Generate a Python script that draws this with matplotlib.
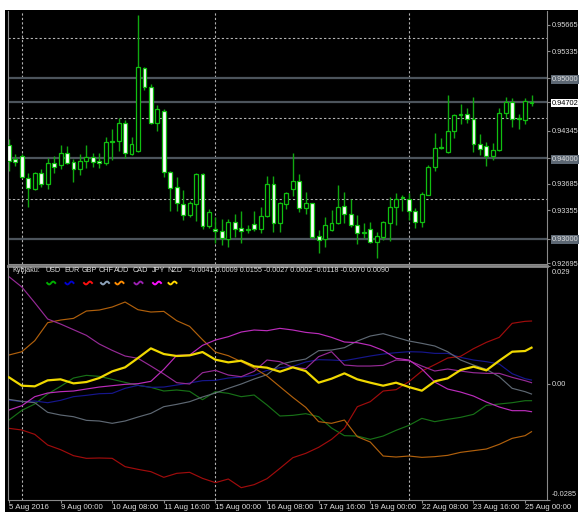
import numpy as np
import matplotlib
matplotlib.use("Agg")
import matplotlib.pyplot as plt
from matplotlib import font_manager as fm
from matplotlib.patches import Rectangle
from matplotlib.transforms import blended_transform_factory, offset_copy

# ---------------- data ----------------
opens = [0.94168, 0.93990, 0.94035, 0.93761, 0.93620, 0.93815, 0.93682, 0.93940, 0.93915, 0.94073,
         0.93952, 0.93865, 0.93973, 0.94019, 0.93969, 0.93940, 0.94218, 0.94218, 0.94439, 0.94052,
         0.94094, 0.95125, 0.94888, 0.94439, 0.94597, 0.93836, 0.93649, 0.93432, 0.93299, 0.93432,
         0.93807, 0.93158, 0.93121, 0.93100, 0.92992, 0.93208, 0.93133, 0.93121, 0.93179, 0.93125,
         0.93283, 0.93682, 0.93200, 0.93432, 0.93615, 0.93724, 0.93383, 0.93441, 0.93033, 0.92992,
         0.93108, 0.93191, 0.93412, 0.93308, 0.93170, 0.93083, 0.93121, 0.92963, 0.93025, 0.93200,
         0.93391, 0.93524, 0.93491, 0.93345, 0.93208, 0.93549, 0.93898, 0.94148, 0.94081, 0.94347,
         0.94538, 0.94555, 0.94497, 0.94177, 0.94156, 0.94031, 0.94106, 0.94563, 0.94705, 0.94505,
         0.94480, 0.94695]
highs = [0.94239, 0.94052, 0.94056, 0.93815, 0.93836, 0.93865, 0.94010, 0.94031, 0.94168, 0.94156,
         0.93994, 0.94052, 0.94168, 0.94064, 0.94064, 0.94272, 0.94368, 0.94501, 0.94480, 0.94272,
         0.95790, 0.95146, 0.94929, 0.94667, 0.94613, 0.93845, 0.93773, 0.93607, 0.93474, 0.93815,
         0.93815, 0.93366, 0.93274, 0.93241, 0.93241, 0.93308, 0.93341, 0.93170, 0.93341, 0.93391,
         0.93782, 0.93782, 0.93462, 0.93586, 0.94073, 0.93807, 0.93586, 0.93449, 0.93108, 0.93266,
         0.93358, 0.93669, 0.93586, 0.93491, 0.93295, 0.93191, 0.93212, 0.93087, 0.93225, 0.93516,
         0.93574, 0.93541, 0.93574, 0.93387, 0.93586, 0.93919, 0.94322, 0.94252, 0.94792, 0.94551,
         0.94680, 0.94634, 0.94771, 0.94306, 0.94210, 0.94189, 0.94626, 0.94763, 0.94751, 0.94555,
         0.94751, 0.94792]
lows = [0.93848, 0.93906, 0.93753, 0.93399, 0.93607, 0.93649, 0.93620, 0.93823, 0.93865, 0.93931,
        0.93711, 0.93794, 0.93877, 0.93898, 0.93877, 0.93919, 0.93981, 0.94098, 0.94010, 0.94044,
        0.94085, 0.94854, 0.94430, 0.94347, 0.93765, 0.93349, 0.93349, 0.93233, 0.93266, 0.93225,
        0.93121, 0.93137, 0.92942, 0.92921, 0.92892, 0.93025, 0.92942, 0.93067, 0.93100, 0.93067,
        0.93274, 0.93087, 0.93087, 0.93370, 0.93532, 0.93337, 0.93308, 0.93004, 0.92825, 0.92900,
        0.93100, 0.93183, 0.93191, 0.93150, 0.92933, 0.93004, 0.92942, 0.92755, 0.92983, 0.92975,
        0.93170, 0.93349, 0.93233, 0.93129, 0.93141, 0.93541, 0.93840, 0.94114, 0.94073, 0.94252,
        0.94426, 0.94439, 0.94085, 0.94044, 0.93911, 0.93981, 0.94089, 0.94505, 0.94397, 0.94364,
        0.94430, 0.94659]
closes = [0.93969, 0.93961, 0.93765, 0.93636, 0.93815, 0.93682, 0.93940, 0.93898, 0.94073, 0.93948,
          0.93865, 0.93973, 0.94019, 0.93952, 0.93948, 0.94210, 0.94202, 0.94439, 0.94064, 0.94177,
          0.95137, 0.94888, 0.94439, 0.94613, 0.93836, 0.93636, 0.93449, 0.93299, 0.93441, 0.93807,
          0.93158, 0.93333, 0.93100, 0.93004, 0.93208, 0.93125, 0.93091, 0.93108, 0.93125, 0.93287,
          0.93682, 0.93200, 0.93441, 0.93566, 0.93724, 0.93378, 0.93441, 0.93025, 0.92983, 0.93175,
          0.93191, 0.93399, 0.93308, 0.93170, 0.93067, 0.93067, 0.92954, 0.93029, 0.93208, 0.93391,
          0.93499, 0.93507, 0.93345, 0.93208, 0.93557, 0.93898, 0.94127, 0.94131, 0.94347, 0.94538,
          0.94551, 0.94497, 0.94177, 0.94114, 0.94031, 0.94106, 0.94563, 0.94705, 0.94497, 0.94497,
          0.94721, 0.94702]

price_levels = [0.95000, 0.94702, 0.94000, 0.93000]
current_price = 0.94702
price_ticks = [0.95665, 0.95335, 0.95000, 0.94702, 0.94345, 0.94000, 0.93685, 0.93355, 0.93000, 0.92695]
price_grid = [0.955, 0.945, 0.935]

time_tick_bars = [0, 8, 16, 24, 32, 40, 48, 56, 64, 72, 80]
time_tick_labels = ["5 Aug 2016", "9 Aug 00:00", "10 Aug 08:00", "11 Aug 16:00", "15 Aug 00:00",
                    "16 Aug 08:00", "17 Aug 16:00", "19 Aug 00:00", "22 Aug 08:00", "23 Aug 16:00",
                    "25 Aug 00:00"]
week_start_bars = [2, 32, 62]

idx_bars = list(range(0, 81, 2)) + [81]
usd = [-0.00885, -0.00647, -0.00491, -0.00246, -0.00057, 0.00147, 0.00213, 0.00188, 0.00115, 0.00041,
       -0.00033, -0.00082, -0.00172, -0.00147, -0.00180, -0.00385, -0.00188, -0.00229, -0.00311, -0.00270,
       -0.00516, -0.00786, -0.00770, -0.00729, -0.00803, -0.01081, -0.01269, -0.01278, -0.01360, -0.01278,
       -0.01138, -0.01016, -0.00844, -0.00925, -0.00868, -0.00819, -0.00745, -0.00524, -0.00491, -0.00459,
       -0.00410, -0.00410]
eur = [-0.00393, -0.00434, -0.00418, -0.00459, -0.00401, -0.00311, -0.00278, -0.00238, -0.00229, -0.00106,
       -0.00033, -0.00082, -0.00074, -0.00025, 0.00025, 0.00082, 0.00090, 0.00147, 0.00172, 0.00213,
       0.00336, 0.00401, 0.00434, 0.00541, 0.00598, 0.00590, 0.00573, 0.00631, 0.00688, 0.00737,
       0.00770, 0.00794, 0.00786, 0.00753, 0.00753, 0.00655, 0.00590, 0.00549, 0.00491, 0.00254,
       0.00131, 0.00098]
gbp = [-0.01089, -0.01130, -0.01237, -0.01499, -0.01613, -0.01761, -0.01826, -0.01818, -0.01826, -0.02031,
       -0.02097, -0.02154, -0.02293, -0.02195, -0.02170, -0.02318, -0.02424, -0.02334, -0.02547, -0.02473,
       -0.02326, -0.02072, -0.01810, -0.01704, -0.01556, -0.01360, -0.01089, -0.00557, -0.00434, -0.00172,
       -0.00139, 0.00057, 0.00319, 0.00475, 0.00639, 0.00680, 0.00868, 0.01024, 0.01147, 0.01491,
       0.01540, 0.01548]
chf = [-0.00377, -0.00426, -0.00459, -0.00696, -0.00762, -0.00803, -0.00893, -0.00909, -0.00966, -0.00909,
       -0.00811, -0.00721, -0.00557, -0.00500, -0.00434, -0.00319, -0.00221, -0.00106, 0.00000, 0.00123,
       0.00229, 0.00483, 0.00557, 0.00614, 0.00819, 0.00835, 0.00893, 0.01057, 0.01179, 0.01237,
       0.01147, 0.01057, 0.00999, 0.00934, 0.00794, 0.00590, 0.00467, 0.00360, 0.00180, -0.00106,
       -0.00188, -0.00246]
aud = [0.00713, 0.00794, 0.01065, 0.01507, 0.01572, 0.01613, 0.01794, 0.01818, 0.01892, 0.02015,
       0.01826, 0.01769, 0.01785, 0.01556, 0.01417, 0.01089, 0.00786, 0.00696, 0.00549, 0.00393,
       0.00197, -0.00066, -0.00328, -0.00573, -0.00925, -0.00966, -0.00885, -0.01294, -0.01425, -0.01769,
       -0.01794, -0.01769, -0.01802, -0.01785, -0.01753, -0.01679, -0.01638, -0.01597, -0.01482, -0.01335,
       -0.01269, -0.01171]
cad = [0.02637, 0.02383, 0.01998, 0.01597, 0.01474, 0.01335, 0.01196, 0.00983, 0.00827, 0.00688,
       0.00631, 0.00442, 0.00246, 0.00033, 0.00000, 0.00278, 0.00336, 0.00221, 0.00180, 0.00311,
       0.00590, 0.00549, 0.00410, 0.00377, 0.00672, 0.00794, 0.00467, 0.00442, 0.00442, 0.00459,
       0.00590, 0.00573, 0.00442, 0.00319, 0.00369, 0.00319, 0.00278, 0.00262, 0.00262, 0.00164,
       0.00082, 0.00033]
jpy = [-0.00639, -0.00532, -0.00311, -0.00221, -0.00188, -0.00172, -0.00123, -0.00074, -0.00041, -0.00008,
       0.00008, 0.00066, 0.00360, 0.00704, 0.00713, 0.00950, 0.01081, 0.01163, 0.01278, 0.01327,
       0.01310, 0.01368, 0.01327, 0.01269, 0.01237, 0.01147, 0.01032, 0.01016, 0.00950, 0.00827,
       0.00631, 0.00590, 0.00369, 0.00049, -0.00123, -0.00197, -0.00295, -0.00442, -0.00565, -0.00655,
       -0.00655, -0.00680]
nzd = [0.00164, -0.00041, -0.00057, 0.00090, 0.00115, 0.00016, 0.00049, 0.00147, 0.00311, 0.00410,
       0.00639, 0.00876, 0.00737, 0.00688, 0.00704, 0.00786, 0.00598, 0.00532, 0.00573, 0.00434,
       0.00401, 0.00303, 0.00410, 0.00319, 0.00033, 0.00131, 0.00262, 0.00115, 0.00033, -0.00041,
       0.00033, -0.00074, -0.00164, 0.00066, 0.00139, 0.00344, 0.00426, 0.00336, 0.00573, 0.00794,
       0.00811, 0.00893]

currencies = ["USD", "EUR", "GBP", "CHF", "AUD", "CAD", "JPY", "NZD"]
legend_values = ["-0.0041", "0.0009", "0.0155", "-0.0027", "0.0002", "-0.0118", "-0.0070", "0.0090"]
ind_ticks = [0.029, 0.0, -0.0285]
ind_tick_labels = ["0.029", "0.00", "-0.0285"]

# ---------------- styling ----------------
W, H = 579, 515
line_colors = ["#177017", "#16168c", "#a00c0c", "#5e6873", "#b0600c", "#962a96", "#bb2cbb", "#f0d800"]
wave_colors = ["#00b000", "#0000d0", "#ff1010", "#8ea4bc", "#ff8c00", "#9a20b0", "#ff10ff", "#ffd700"]
series = [usd, eur, gbp, chf, aud, cad, jpy, nzd]

FAM = "Liberation Sans"
fp_price = fm.FontProperties(family=FAM, size=5.3)
fp_time = fm.FontProperties(family=FAM, size=5.7)
fp_leg = fm.FontProperties(family=FAM, size=5.2)
TXT = "#dcdcdc"
AXC = "#8a8a8a"

fig = plt.figure(figsize=(W / 100, H / 100), dpi=100)
fig.patch.set_facecolor("white")
fig.patches.append(Rectangle((5 / W, 3 / H), 573 / W, 502 / H, transform=fig.transFigure,
                             facecolor="black", edgecolor="none", zorder=-10))

ax1 = fig.add_axes([8 / W, (H - 263.5) / H, 539 / W, 252.5 / H])
ax2 = fig.add_axes([8 / W, (H - 500) / H, 539 / W, 234 / H])
xlim = (-0.15, 83.4)

for ax in (ax1, ax2):
    ax.set_facecolor("black")
    ax.set_xlim(*xlim)
    for s in ax.spines.values():
        s.set_color(AXC)
        s.set_linewidth(0.8)
    for b in week_start_bars:
        ax.axvline(b, color="#b4b4b4", lw=0.8, ls=(0, (2, 2)), zorder=1)

# ---- price panel ----
ax1.set_ylim(0.9269, 0.95839)
ax1.spines["top"].set_visible(False)
for g in price_grid:
    ax1.axhline(g, color="#b4b4b4", lw=0.8, ls=(0, (2, 2)), zorder=1)
for lv in price_levels:
    ax1.axhline(lv, color="#4c545c", lw=1.6, zorder=1.5)

x = np.arange(len(opens))
o = np.array(opens); c = np.array(closes); h = np.array(highs); l = np.array(lows)
ax1.vlines(x, l, h, color="#10a810", lw=1.0, zorder=2)
bull = c >= o
body_bottom = np.minimum(o, c)
body_h = np.maximum(np.abs(c - o), 0.00003)
ax1.bar(x[bull], body_h[bull], bottom=body_bottom[bull], width=0.6, facecolor="black",
        edgecolor="#10c010", linewidth=0.9, zorder=3)
ax1.bar(x[~bull], body_h[~bull], bottom=body_bottom[~bull], width=0.6, facecolor="white",
        edgecolor="#10c010", linewidth=0.9, zorder=3)

ax1.set_xticks([])
ax1.yaxis.tick_right()
ax1.set_yticks(price_ticks)
ax1.set_yticklabels(["%.5f" % p for p in price_ticks])
ax1.tick_params(axis="y", colors=AXC, length=2, width=0.8, pad=1.2)
for lab, p in zip(ax1.get_yticklabels(), price_ticks):
    lab.set_fontproperties(fp_price)
    lab.set_color(TXT)
    if abs(p - current_price) < 1e-9:
        lab.set_color("black")
        lab.set_bbox(dict(facecolor="white", edgecolor="none", pad=0.6))
    elif any(abs(p - lv) < 1e-9 for lv in price_levels):
        lab.set_bbox(dict(facecolor="#5c6773", edgecolor="none", pad=0.6))

# ---- indicator panel ----
ax2.set_ylim(-0.0285, 0.029)
ax2.spines["top"].set_linewidth(2.0)
for vals, col, cur in zip(series, line_colors, currencies):
    ax2.plot(idx_bars, vals, color=col, lw=1.6 if cur == "NZD" else 0.85, zorder=3 if cur == "NZD" else 2,
             solid_joinstyle="round")

ax2.yaxis.tick_right()
ax2.set_yticks(ind_ticks)
ax2.set_yticklabels([])
ax2.tick_params(axis="y", colors=AXC, length=2, width=0.8, pad=1.2)
ytr = blended_transform_factory(ax2.transAxes, ax2.transData)
for v, txt in zip(ind_ticks, ind_tick_labels):
    dy = -7 if v > 0 else (5 if v < 0 else 0)
    tr = offset_copy(ytr, fig=fig, x=5, y=dy, units="dots")
    ax2.text(1.0, v, txt, transform=tr, fontproperties=fp_price, color=TXT,
             ha="left", va="center", clip_on=False)

ax2.set_xticks(time_tick_bars)
ax2.set_xticklabels(time_tick_labels)
ax2.tick_params(axis="x", colors=AXC, length=2.5, width=0.8, pad=0.5)
for lab in ax2.get_xticklabels():
    lab.set_fontproperties(fp_time)
    lab.set_color(TXT)
    lab.set_ha("left")


def ax_x(px):
    return (px - 8) / 539.0


def ax_y(py):
    return (500 - py) / 234.0


ax2.text(ax_x(12.5), ax_y(271), "Kybjaku:", transform=ax2.transAxes, fontproperties=fp_leg,
         color=TXT, ha="left", va="center", zorder=5)
name_x = [45.7, 64, 82, 99, 114, 133, 152, 167]
name_w = [11, 11, 12, 12, 11, 11, 10, 11]
for cur, nx, nw, wc in zip(currencies, name_x, name_w, wave_colors):
    ax2.text(ax_x(nx), ax_y(271), cur, transform=ax2.transAxes, fontproperties=fp_leg,
             color=TXT, ha="left", va="center", zorder=5)
    cx = nx + nw / 2.0
    t = np.linspace(0, 1, 30)
    wx = [ax_x(cx - 4 + 8 * tt) for tt in t]
    wy = [ax_y(283 + 1.4 * np.sin(2 * np.pi * tt)) for tt in t]
    ax2.plot(wx, wy, transform=ax2.transAxes, color=wc, lw=1.4, zorder=5, clip_on=False)
ax2.text(ax_x(189), ax_y(271), " ".join(legend_values), transform=ax2.transAxes, fontproperties=fp_leg,
         color=TXT, ha="left", va="center", zorder=5)

fig.savefig("out.png", dpi=100, facecolor="white")
